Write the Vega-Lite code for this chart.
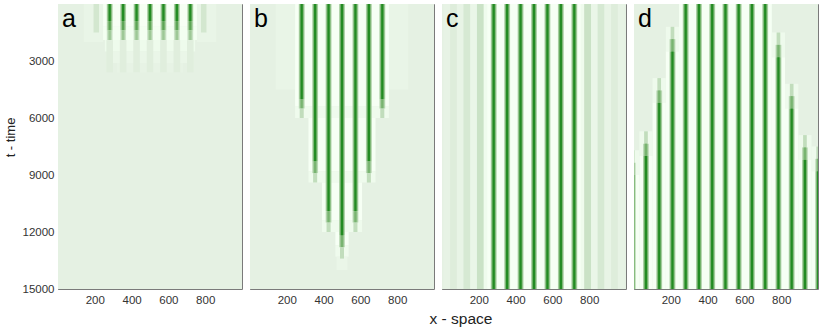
{
"$schema":"https://vega.github.io/schema/vega-lite/v6.json",
"padding":{"left":3,"top":3,"right":2,"bottom":2},
"config":{"view":{"stroke":"#7a7a7a","strokeWidth":1},"font":"Liberation Sans",
"axis":{"domain":false,"grid":false,"zindex":1,"tickColor":"#7a7a7a","tickSize":-4,"labelFont":"Liberation Sans","labelFontSize":11.5,"labelColor":"#333333","titleFont":"Liberation Sans","titleFontSize":15.5,"titleFontWeight":"normal","titleColor":"#222222"}},
"data":{"values":[
{"p":"a","x":0,"x2":1000,"t":0,"t2":15000,"v":0},
{"p":"a","x":140,"x2":245,"t":0,"t2":2000,"v":-0.25},
{"p":"a","x":755,"x2":860,"t":0,"t2":2000,"v":-0.25},
{"p":"a","x":193,"x2":223,"t":0,"t2":1500,"v":0.1},
{"p":"a","x":777,"x2":807,"t":0,"t2":1500,"v":0.1},
{"p":"a","x":245,"x2":755,"t":0,"t2":1200,"v":-1},
{"p":"a","x":245,"x2":755,"t":1200,"t2":1900,"v":-0.8},
{"p":"a","x":255,"x2":745,"t":1900,"t2":2500,"v":-0.55},
{"p":"a","x":270,"x2":730,"t":2500,"t2":3100,"v":-0.3},
{"p":"a","x":320,"x2":680,"t":3100,"t2":3600,"v":-0.12},
{"p":"a","x":265,"x2":297,"t":0,"t2":900,"v":0.3},{"p":"a","x":270,"x2":292,"t":0,"t2":900,"v":0.6},{"p":"a","x":275,"x2":287,"t":0,"t2":900,"v":1},
{"p":"a","x":265,"x2":297,"t":900,"t2":1400,"v":0.25},{"p":"a","x":270,"x2":292,"t":900,"t2":1400,"v":0.45},{"p":"a","x":275,"x2":287,"t":900,"t2":1400,"v":0.75},
{"p":"a","x":265,"x2":297,"t":1400,"t2":1900,"v":0.12},{"p":"a","x":270,"x2":292,"t":1400,"t2":1900,"v":0.25},{"p":"a","x":275,"x2":287,"t":1400,"t2":1900,"v":0.4},
{"p":"a","x":263,"x2":299,"t":1900,"t2":3600,"v":0.03},
{"p":"a","x":338,"x2":370,"t":0,"t2":900,"v":0.3},{"p":"a","x":343,"x2":365,"t":0,"t2":900,"v":0.6},{"p":"a","x":348,"x2":360,"t":0,"t2":900,"v":1},
{"p":"a","x":338,"x2":370,"t":900,"t2":1400,"v":0.25},{"p":"a","x":343,"x2":365,"t":900,"t2":1400,"v":0.45},{"p":"a","x":348,"x2":360,"t":900,"t2":1400,"v":0.75},
{"p":"a","x":338,"x2":370,"t":1400,"t2":1900,"v":0.12},{"p":"a","x":343,"x2":365,"t":1400,"t2":1900,"v":0.25},{"p":"a","x":348,"x2":360,"t":1400,"t2":1900,"v":0.4},
{"p":"a","x":336,"x2":372,"t":1900,"t2":3600,"v":0.03},
{"p":"a","x":411,"x2":443,"t":0,"t2":900,"v":0.3},{"p":"a","x":416,"x2":438,"t":0,"t2":900,"v":0.6},{"p":"a","x":421,"x2":433,"t":0,"t2":900,"v":1},
{"p":"a","x":411,"x2":443,"t":900,"t2":1400,"v":0.25},{"p":"a","x":416,"x2":438,"t":900,"t2":1400,"v":0.45},{"p":"a","x":421,"x2":433,"t":900,"t2":1400,"v":0.75},
{"p":"a","x":411,"x2":443,"t":1400,"t2":1900,"v":0.12},{"p":"a","x":416,"x2":438,"t":1400,"t2":1900,"v":0.25},{"p":"a","x":421,"x2":433,"t":1400,"t2":1900,"v":0.4},
{"p":"a","x":409,"x2":445,"t":1900,"t2":3600,"v":0.03},
{"p":"a","x":484,"x2":516,"t":0,"t2":900,"v":0.3},{"p":"a","x":489,"x2":511,"t":0,"t2":900,"v":0.6},{"p":"a","x":494,"x2":506,"t":0,"t2":900,"v":1},
{"p":"a","x":484,"x2":516,"t":900,"t2":1400,"v":0.25},{"p":"a","x":489,"x2":511,"t":900,"t2":1400,"v":0.45},{"p":"a","x":494,"x2":506,"t":900,"t2":1400,"v":0.75},
{"p":"a","x":484,"x2":516,"t":1400,"t2":1900,"v":0.12},{"p":"a","x":489,"x2":511,"t":1400,"t2":1900,"v":0.25},{"p":"a","x":494,"x2":506,"t":1400,"t2":1900,"v":0.4},
{"p":"a","x":482,"x2":518,"t":1900,"t2":3600,"v":0.03},
{"p":"a","x":557,"x2":589,"t":0,"t2":900,"v":0.3},{"p":"a","x":562,"x2":584,"t":0,"t2":900,"v":0.6},{"p":"a","x":567,"x2":579,"t":0,"t2":900,"v":1},
{"p":"a","x":557,"x2":589,"t":900,"t2":1400,"v":0.25},{"p":"a","x":562,"x2":584,"t":900,"t2":1400,"v":0.45},{"p":"a","x":567,"x2":579,"t":900,"t2":1400,"v":0.75},
{"p":"a","x":557,"x2":589,"t":1400,"t2":1900,"v":0.12},{"p":"a","x":562,"x2":584,"t":1400,"t2":1900,"v":0.25},{"p":"a","x":567,"x2":579,"t":1400,"t2":1900,"v":0.4},
{"p":"a","x":555,"x2":591,"t":1900,"t2":3600,"v":0.03},
{"p":"a","x":630,"x2":662,"t":0,"t2":900,"v":0.3},{"p":"a","x":635,"x2":657,"t":0,"t2":900,"v":0.6},{"p":"a","x":640,"x2":652,"t":0,"t2":900,"v":1},
{"p":"a","x":630,"x2":662,"t":900,"t2":1400,"v":0.25},{"p":"a","x":635,"x2":657,"t":900,"t2":1400,"v":0.45},{"p":"a","x":640,"x2":652,"t":900,"t2":1400,"v":0.75},
{"p":"a","x":630,"x2":662,"t":1400,"t2":1900,"v":0.12},{"p":"a","x":635,"x2":657,"t":1400,"t2":1900,"v":0.25},{"p":"a","x":640,"x2":652,"t":1400,"t2":1900,"v":0.4},
{"p":"a","x":628,"x2":664,"t":1900,"t2":3600,"v":0.03},
{"p":"a","x":703,"x2":735,"t":0,"t2":900,"v":0.3},{"p":"a","x":708,"x2":730,"t":0,"t2":900,"v":0.6},{"p":"a","x":713,"x2":725,"t":0,"t2":900,"v":1},
{"p":"a","x":703,"x2":735,"t":900,"t2":1400,"v":0.25},{"p":"a","x":708,"x2":730,"t":900,"t2":1400,"v":0.45},{"p":"a","x":713,"x2":725,"t":900,"t2":1400,"v":0.75},
{"p":"a","x":703,"x2":735,"t":1400,"t2":1900,"v":0.12},{"p":"a","x":708,"x2":730,"t":1400,"t2":1900,"v":0.25},{"p":"a","x":713,"x2":725,"t":1400,"t2":1900,"v":0.4},
{"p":"a","x":701,"x2":737,"t":1900,"t2":3600,"v":0.03},

{"p":"b","x":0,"x2":1000,"t":0,"t2":15000,"v":0},
{"p":"b","x":140,"x2":245,"t":0,"t2":4500,"v":-0.25},
{"p":"b","x":755,"x2":860,"t":0,"t2":4500,"v":-0.25},
{"p":"b","x":245,"x2":755,"t":0,"t2":5400,"v":-1},
{"p":"b","x":245,"x2":755,"t":5400,"t2":6000,"v":-0.6},
{"p":"b","x":318,"x2":682,"t":6000,"t2":8800,"v":-1},
{"p":"b","x":318,"x2":682,"t":8800,"t2":9400,"v":-0.6},
{"p":"b","x":391,"x2":609,"t":9400,"t2":11400,"v":-1},
{"p":"b","x":391,"x2":609,"t":11400,"t2":12000,"v":-0.6},
{"p":"b","x":464,"x2":536,"t":12000,"t2":12700,"v":-1},
{"p":"b","x":464,"x2":536,"t":12700,"t2":13300,"v":-0.6},
{"p":"b","x":470,"x2":530,"t":13300,"t2":14000,"v":-0.3},
{"p":"b","x":265,"x2":297,"t":0,"t2":5000,"v":0.3},{"p":"b","x":270,"x2":292,"t":0,"t2":5000,"v":0.6},{"p":"b","x":275,"x2":287,"t":0,"t2":5000,"v":1},
{"p":"b","x":265,"x2":297,"t":5000,"t2":5500,"v":0.2},{"p":"b","x":270,"x2":292,"t":5000,"t2":5500,"v":0.4},{"p":"b","x":275,"x2":287,"t":5000,"t2":5500,"v":0.6},
{"p":"b","x":270,"x2":292,"t":5500,"t2":6000,"v":0.2},
{"p":"b","x":703,"x2":735,"t":0,"t2":5000,"v":0.3},{"p":"b","x":708,"x2":730,"t":0,"t2":5000,"v":0.6},{"p":"b","x":713,"x2":725,"t":0,"t2":5000,"v":1},
{"p":"b","x":703,"x2":735,"t":5000,"t2":5500,"v":0.2},{"p":"b","x":708,"x2":730,"t":5000,"t2":5500,"v":0.4},{"p":"b","x":713,"x2":725,"t":5000,"t2":5500,"v":0.6},
{"p":"b","x":708,"x2":730,"t":5500,"t2":6000,"v":0.2},
{"p":"b","x":338,"x2":370,"t":0,"t2":8300,"v":0.3},{"p":"b","x":343,"x2":365,"t":0,"t2":8300,"v":0.6},{"p":"b","x":348,"x2":360,"t":0,"t2":8300,"v":1},
{"p":"b","x":338,"x2":370,"t":8300,"t2":8900,"v":0.2},{"p":"b","x":343,"x2":365,"t":8300,"t2":8900,"v":0.4},{"p":"b","x":348,"x2":360,"t":8300,"t2":8900,"v":0.6},
{"p":"b","x":343,"x2":365,"t":8900,"t2":9400,"v":0.2},
{"p":"b","x":630,"x2":662,"t":0,"t2":8300,"v":0.3},{"p":"b","x":635,"x2":657,"t":0,"t2":8300,"v":0.6},{"p":"b","x":640,"x2":652,"t":0,"t2":8300,"v":1},
{"p":"b","x":630,"x2":662,"t":8300,"t2":8900,"v":0.2},{"p":"b","x":635,"x2":657,"t":8300,"t2":8900,"v":0.4},{"p":"b","x":640,"x2":652,"t":8300,"t2":8900,"v":0.6},
{"p":"b","x":635,"x2":657,"t":8900,"t2":9400,"v":0.2},
{"p":"b","x":411,"x2":443,"t":0,"t2":10900,"v":0.3},{"p":"b","x":416,"x2":438,"t":0,"t2":10900,"v":0.6},{"p":"b","x":421,"x2":433,"t":0,"t2":10900,"v":1},
{"p":"b","x":411,"x2":443,"t":10900,"t2":11500,"v":0.2},{"p":"b","x":416,"x2":438,"t":10900,"t2":11500,"v":0.4},{"p":"b","x":421,"x2":433,"t":10900,"t2":11500,"v":0.6},
{"p":"b","x":416,"x2":438,"t":11500,"t2":12000,"v":0.2},
{"p":"b","x":557,"x2":589,"t":0,"t2":10900,"v":0.3},{"p":"b","x":562,"x2":584,"t":0,"t2":10900,"v":0.6},{"p":"b","x":567,"x2":579,"t":0,"t2":10900,"v":1},
{"p":"b","x":557,"x2":589,"t":10900,"t2":11500,"v":0.2},{"p":"b","x":562,"x2":584,"t":10900,"t2":11500,"v":0.4},{"p":"b","x":567,"x2":579,"t":10900,"t2":11500,"v":0.6},
{"p":"b","x":562,"x2":584,"t":11500,"t2":12000,"v":0.2},
{"p":"b","x":484,"x2":516,"t":0,"t2":12200,"v":0.3},{"p":"b","x":489,"x2":511,"t":0,"t2":12200,"v":0.6},{"p":"b","x":494,"x2":506,"t":0,"t2":12200,"v":1},
{"p":"b","x":484,"x2":516,"t":12200,"t2":12800,"v":0.2},{"p":"b","x":489,"x2":511,"t":12200,"t2":12800,"v":0.4},{"p":"b","x":494,"x2":506,"t":12200,"t2":12800,"v":0.6},
{"p":"b","x":489,"x2":511,"t":12800,"t2":13400,"v":0.2},

{"p":"c","x":0,"x2":1000,"t":0,"t2":15000,"v":0},
{"p":"c","x":8,"x2":44,"t":0,"t2":15000,"v":-0.1},
{"p":"c","x":44,"x2":81,"t":0,"t2":15000,"v":0.04},
{"p":"c","x":81,"x2":117,"t":0,"t2":15000,"v":-0.2},
{"p":"c","x":117,"x2":154,"t":0,"t2":15000,"v":0.08},
{"p":"c","x":154,"x2":190,"t":0,"t2":15000,"v":-0.3},
{"p":"c","x":190,"x2":227,"t":0,"t2":15000,"v":0.15},
{"p":"c","x":227,"x2":245,"t":0,"t2":15000,"v":-0.6},
{"p":"c","x":755,"x2":773,"t":0,"t2":15000,"v":-0.6},
{"p":"c","x":773,"x2":810,"t":0,"t2":15000,"v":0.15},
{"p":"c","x":810,"x2":846,"t":0,"t2":15000,"v":-0.3},
{"p":"c","x":846,"x2":883,"t":0,"t2":15000,"v":0.08},
{"p":"c","x":883,"x2":919,"t":0,"t2":15000,"v":-0.2},
{"p":"c","x":919,"x2":956,"t":0,"t2":15000,"v":0.04},
{"p":"c","x":956,"x2":992,"t":0,"t2":15000,"v":-0.1},
{"p":"c","x":245,"x2":755,"t":0,"t2":15000,"v":-1},
{"p":"c","x":265,"x2":297,"t":0,"t2":15000,"v":0.3},{"p":"c","x":270,"x2":292,"t":0,"t2":15000,"v":0.6},{"p":"c","x":275,"x2":287,"t":0,"t2":15000,"v":1},
{"p":"c","x":338,"x2":370,"t":0,"t2":15000,"v":0.3},{"p":"c","x":343,"x2":365,"t":0,"t2":15000,"v":0.6},{"p":"c","x":348,"x2":360,"t":0,"t2":15000,"v":1},
{"p":"c","x":411,"x2":443,"t":0,"t2":15000,"v":0.3},{"p":"c","x":416,"x2":438,"t":0,"t2":15000,"v":0.6},{"p":"c","x":421,"x2":433,"t":0,"t2":15000,"v":1},
{"p":"c","x":484,"x2":516,"t":0,"t2":15000,"v":0.3},{"p":"c","x":489,"x2":511,"t":0,"t2":15000,"v":0.6},{"p":"c","x":494,"x2":506,"t":0,"t2":15000,"v":1},
{"p":"c","x":557,"x2":589,"t":0,"t2":15000,"v":0.3},{"p":"c","x":562,"x2":584,"t":0,"t2":15000,"v":0.6},{"p":"c","x":567,"x2":579,"t":0,"t2":15000,"v":1},
{"p":"c","x":630,"x2":662,"t":0,"t2":15000,"v":0.3},{"p":"c","x":635,"x2":657,"t":0,"t2":15000,"v":0.6},{"p":"c","x":640,"x2":652,"t":0,"t2":15000,"v":1},
{"p":"c","x":703,"x2":735,"t":0,"t2":15000,"v":0.3},{"p":"c","x":708,"x2":730,"t":0,"t2":15000,"v":0.6},{"p":"c","x":713,"x2":725,"t":0,"t2":15000,"v":1},

{"p":"d","x":0,"x2":1000,"t":0,"t2":15000,"v":0},
{"p":"d","x":245,"x2":749,"t":0,"t2":15000,"v":-1},
{"p":"d","x":173,"x2":245,"t":1200,"t2":2500,"v":-0.5},{"p":"d","x":173,"x2":245,"t":2500,"t2":15000,"v":-1},
{"p":"d","x":749,"x2":821,"t":1500,"t2":2800,"v":-0.5},{"p":"d","x":749,"x2":821,"t":2800,"t2":15000,"v":-1},
{"p":"d","x":101,"x2":173,"t":3900,"t2":5200,"v":-0.5},{"p":"d","x":101,"x2":173,"t":5200,"t2":15000,"v":-1},
{"p":"d","x":821,"x2":893,"t":4200,"t2":5500,"v":-0.5},{"p":"d","x":821,"x2":893,"t":5500,"t2":15000,"v":-1},
{"p":"d","x":29,"x2":101,"t":6700,"t2":8000,"v":-0.5},{"p":"d","x":29,"x2":101,"t":8000,"t2":15000,"v":-1},
{"p":"d","x":893,"x2":965,"t":6900,"t2":8200,"v":-0.5},{"p":"d","x":893,"x2":965,"t":8200,"t2":15000,"v":-1},
{"p":"d","x":0,"x2":29,"t":7700,"t2":9000,"v":-0.5},{"p":"d","x":0,"x2":29,"t":9000,"t2":15000,"v":-1},
{"p":"d","x":965,"x2":1000,"t":7500,"t2":8800,"v":-0.5},{"p":"d","x":965,"x2":1000,"t":8800,"t2":15000,"v":-1},
{"p":"d","x":265,"x2":297,"t":0,"t2":15000,"v":0.3},{"p":"d","x":270,"x2":292,"t":0,"t2":15000,"v":0.6},{"p":"d","x":275,"x2":287,"t":0,"t2":15000,"v":1},
{"p":"d","x":337,"x2":369,"t":0,"t2":15000,"v":0.3},{"p":"d","x":342,"x2":364,"t":0,"t2":15000,"v":0.6},{"p":"d","x":347,"x2":359,"t":0,"t2":15000,"v":1},
{"p":"d","x":409,"x2":441,"t":0,"t2":15000,"v":0.3},{"p":"d","x":414,"x2":436,"t":0,"t2":15000,"v":0.6},{"p":"d","x":419,"x2":431,"t":0,"t2":15000,"v":1},
{"p":"d","x":481,"x2":513,"t":0,"t2":15000,"v":0.3},{"p":"d","x":486,"x2":508,"t":0,"t2":15000,"v":0.6},{"p":"d","x":491,"x2":503,"t":0,"t2":15000,"v":1},
{"p":"d","x":553,"x2":585,"t":0,"t2":15000,"v":0.3},{"p":"d","x":558,"x2":580,"t":0,"t2":15000,"v":0.6},{"p":"d","x":563,"x2":575,"t":0,"t2":15000,"v":1},
{"p":"d","x":625,"x2":657,"t":0,"t2":15000,"v":0.3},{"p":"d","x":630,"x2":652,"t":0,"t2":15000,"v":0.6},{"p":"d","x":635,"x2":647,"t":0,"t2":15000,"v":1},
{"p":"d","x":697,"x2":729,"t":0,"t2":15000,"v":0.3},{"p":"d","x":702,"x2":724,"t":0,"t2":15000,"v":0.6},{"p":"d","x":707,"x2":719,"t":0,"t2":15000,"v":1},
{"p":"d","x":199,"x2":219,"t":1200,"t2":1850,"v":0.2},
{"p":"d","x":193,"x2":225,"t":1850,"t2":2500,"v":0.2},{"p":"d","x":198,"x2":220,"t":1850,"t2":2500,"v":0.4},{"p":"d","x":203,"x2":215,"t":1850,"t2":2500,"v":0.6},
{"p":"d","x":193,"x2":225,"t":2500,"t2":15000,"v":0.3},{"p":"d","x":198,"x2":220,"t":2500,"t2":15000,"v":0.6},{"p":"d","x":203,"x2":215,"t":2500,"t2":15000,"v":1},
{"p":"d","x":775,"x2":795,"t":1500,"t2":2150,"v":0.2},
{"p":"d","x":769,"x2":801,"t":2150,"t2":2800,"v":0.2},{"p":"d","x":774,"x2":796,"t":2150,"t2":2800,"v":0.4},{"p":"d","x":779,"x2":791,"t":2150,"t2":2800,"v":0.6},
{"p":"d","x":769,"x2":801,"t":2800,"t2":15000,"v":0.3},{"p":"d","x":774,"x2":796,"t":2800,"t2":15000,"v":0.6},{"p":"d","x":779,"x2":791,"t":2800,"t2":15000,"v":1},
{"p":"d","x":127,"x2":147,"t":3900,"t2":4550,"v":0.2},
{"p":"d","x":121,"x2":153,"t":4550,"t2":5200,"v":0.2},{"p":"d","x":126,"x2":148,"t":4550,"t2":5200,"v":0.4},{"p":"d","x":131,"x2":143,"t":4550,"t2":5200,"v":0.6},
{"p":"d","x":121,"x2":153,"t":5200,"t2":15000,"v":0.3},{"p":"d","x":126,"x2":148,"t":5200,"t2":15000,"v":0.6},{"p":"d","x":131,"x2":143,"t":5200,"t2":15000,"v":1},
{"p":"d","x":847,"x2":867,"t":4200,"t2":4850,"v":0.2},
{"p":"d","x":841,"x2":873,"t":4850,"t2":5500,"v":0.2},{"p":"d","x":846,"x2":868,"t":4850,"t2":5500,"v":0.4},{"p":"d","x":851,"x2":863,"t":4850,"t2":5500,"v":0.6},
{"p":"d","x":841,"x2":873,"t":5500,"t2":15000,"v":0.3},{"p":"d","x":846,"x2":868,"t":5500,"t2":15000,"v":0.6},{"p":"d","x":851,"x2":863,"t":5500,"t2":15000,"v":1},
{"p":"d","x":55,"x2":75,"t":6700,"t2":7350,"v":0.2},
{"p":"d","x":49,"x2":81,"t":7350,"t2":8000,"v":0.2},{"p":"d","x":54,"x2":76,"t":7350,"t2":8000,"v":0.4},{"p":"d","x":59,"x2":71,"t":7350,"t2":8000,"v":0.6},
{"p":"d","x":49,"x2":81,"t":8000,"t2":15000,"v":0.3},{"p":"d","x":54,"x2":76,"t":8000,"t2":15000,"v":0.6},{"p":"d","x":59,"x2":71,"t":8000,"t2":15000,"v":1},
{"p":"d","x":919,"x2":939,"t":6900,"t2":7550,"v":0.2},
{"p":"d","x":913,"x2":945,"t":7550,"t2":8200,"v":0.2},{"p":"d","x":918,"x2":940,"t":7550,"t2":8200,"v":0.4},{"p":"d","x":923,"x2":935,"t":7550,"t2":8200,"v":0.6},
{"p":"d","x":913,"x2":945,"t":8200,"t2":15000,"v":0.3},{"p":"d","x":918,"x2":940,"t":8200,"t2":15000,"v":0.6},{"p":"d","x":923,"x2":935,"t":8200,"t2":15000,"v":1},
{"p":"d","x":-17,"x2":3,"t":7700,"t2":8350,"v":0.2},
{"p":"d","x":-23,"x2":9,"t":8350,"t2":9000,"v":0.2},{"p":"d","x":-18,"x2":4,"t":8350,"t2":9000,"v":0.4},{"p":"d","x":-13,"x2":-1,"t":8350,"t2":9000,"v":0.6},
{"p":"d","x":-23,"x2":9,"t":9000,"t2":15000,"v":0.3},{"p":"d","x":-18,"x2":4,"t":9000,"t2":15000,"v":0.6},{"p":"d","x":-13,"x2":-1,"t":9000,"t2":15000,"v":1},
{"p":"d","x":991,"x2":1011,"t":7500,"t2":8150,"v":0.2},
{"p":"d","x":985,"x2":1017,"t":8150,"t2":8800,"v":0.2},{"p":"d","x":990,"x2":1012,"t":8150,"t2":8800,"v":0.4},{"p":"d","x":995,"x2":1007,"t":8150,"t2":8800,"v":0.6},
{"p":"d","x":985,"x2":1017,"t":8800,"t2":15000,"v":0.3},{"p":"d","x":990,"x2":1012,"t":8800,"t2":15000,"v":0.6},{"p":"d","x":995,"x2":1007,"t":8800,"t2":15000,"v":1}
]},
"hconcat":[
{"width":184,"height":285,"resolve":{"axis":{"x":"independent","y":"independent"}},"layer":[
 {"transform":[{"filter":"datum.p==='a'"}],"mark":{"type":"rect","clip":true},"encoding":{
  "x":{"field":"x","type":"quantitative","scale":{"domain":[0,1000],"nice":false,"zero":false},"axis":{"orient":"bottom","values":[200,400,600,800],"title":null,"labelPadding":9}},
  "x2":{"field":"x2"},
  "y":{"field":"t","type":"quantitative","scale":{"domain":[0,15000],"reverse":true,"nice":false},"axis":{"orient":"left","values":[3000,6000,9000,12000,15000],"format":"d","title":"t - time","titleFontSize":13,"labelPadding":8,"titlePadding":5,"titleY":133,"titleAlign":"center"}},
  "y2":{"field":"t2"},
  "color":{"field":"v","type":"quantitative","scale":{"domain":[-1,0,1],"range":["#ffffff","#e5f1e3","#228b22"]},"legend":null}}},
 {"data":{"values":[{"lab":"a"}]},"mark":{"type":"text","fontSize":25,"align":"left","baseline":"alphabetic","dx":4,"dy":23,"color":"#000000","font":"Liberation Sans"},"encoding":{"text":{"field":"lab"},
  "x":{"datum":0,"axis":{"orient":"top","labels":false,"title":null,"values":[200,400,600,800]}},
  "y":{"datum":0,"axis":{"orient":"right","labels":false,"title":null,"values":[3000,6000,9000,12000]}}}}
]},
{"width":184,"height":285,"resolve":{"axis":{"x":"independent","y":"independent"}},"layer":[
 {"transform":[{"filter":"datum.p==='b'"}],"mark":{"type":"rect","clip":true},"encoding":{
  "x":{"field":"x","type":"quantitative","scale":{"domain":[0,1000],"nice":false,"zero":false},"axis":{"orient":"bottom","values":[200,400,600,800],"title":null,"labelPadding":9}},
  "x2":{"field":"x2"},
  "y":{"field":"t","type":"quantitative","scale":{"domain":[0,15000],"reverse":true,"nice":false},"axis":{"orient":"left","values":[3000,6000,9000,12000,15000],"title":null,"labels":false}},
  "y2":{"field":"t2"},
  "color":{"field":"v","type":"quantitative","scale":{"domain":[-1,0,1],"range":["#ffffff","#e5f1e3","#228b22"]},"legend":null}}},
 {"data":{"values":[{"lab":"b"}]},"mark":{"type":"text","fontSize":25,"align":"left","baseline":"alphabetic","dx":4,"dy":23,"color":"#000000","font":"Liberation Sans"},"encoding":{"text":{"field":"lab"},
  "x":{"datum":0,"axis":{"orient":"top","labels":false,"title":null,"values":[200,400,600,800]}},
  "y":{"datum":0,"axis":{"orient":"right","labels":false,"title":null,"values":[3000,6000,9000,12000]}}}}
]},
{"width":184,"height":285,"resolve":{"axis":{"x":"independent","y":"independent"}},"layer":[
 {"transform":[{"filter":"datum.p==='c'"}],"mark":{"type":"rect","clip":true},"encoding":{
  "x":{"field":"x","type":"quantitative","scale":{"domain":[0,1000],"nice":false,"zero":false},"axis":{"orient":"bottom","values":[200,400,600,800],"title":"x - space","labelPadding":9,"titleAnchor":"start","titleAlign":"left","titleX":-13,"titleY":34,"titleBaseline":"alphabetic"}},
  "x2":{"field":"x2"},
  "y":{"field":"t","type":"quantitative","scale":{"domain":[0,15000],"reverse":true,"nice":false},"axis":{"orient":"left","values":[3000,6000,9000,12000,15000],"title":null,"labels":false}},
  "y2":{"field":"t2"},
  "color":{"field":"v","type":"quantitative","scale":{"domain":[-1,0,1],"range":["#ffffff","#e5f1e3","#228b22"]},"legend":null}}},
 {"data":{"values":[{"lab":"c"}]},"mark":{"type":"text","fontSize":25,"align":"left","baseline":"alphabetic","dx":4,"dy":23,"color":"#000000","font":"Liberation Sans"},"encoding":{"text":{"field":"lab"},
  "x":{"datum":0,"axis":{"orient":"top","labels":false,"title":null,"values":[200,400,600,800]}},
  "y":{"datum":0,"axis":{"orient":"right","labels":false,"title":null,"values":[3000,6000,9000,12000]}}}}
]},
{"width":184,"height":285,"resolve":{"axis":{"x":"independent","y":"independent"}},"layer":[
 {"transform":[{"filter":"datum.p==='d'"}],"mark":{"type":"rect","clip":true},"encoding":{
  "x":{"field":"x","type":"quantitative","scale":{"domain":[0,1000],"nice":false,"zero":false},"axis":{"orient":"bottom","values":[200,400,600,800],"title":null,"labelPadding":9}},
  "x2":{"field":"x2"},
  "y":{"field":"t","type":"quantitative","scale":{"domain":[0,15000],"reverse":true,"nice":false},"axis":{"orient":"left","values":[3000,6000,9000,12000,15000],"title":null,"labels":false}},
  "y2":{"field":"t2"},
  "color":{"field":"v","type":"quantitative","scale":{"domain":[-1,0,1],"range":["#ffffff","#e5f1e3","#228b22"]},"legend":null}}},
 {"data":{"values":[{"lab":"d"}]},"mark":{"type":"text","fontSize":25,"align":"left","baseline":"alphabetic","dx":4,"dy":23,"color":"#000000","font":"Liberation Sans"},"encoding":{"text":{"field":"lab"},
  "x":{"datum":0,"axis":{"orient":"top","labels":false,"title":null,"values":[200,400,600,800]}},
  "y":{"datum":0,"axis":{"orient":"right","labels":false,"title":null,"values":[3000,6000,9000,12000]}}}}
]}
],
"spacing":8,
"bounds":"flush"
}
